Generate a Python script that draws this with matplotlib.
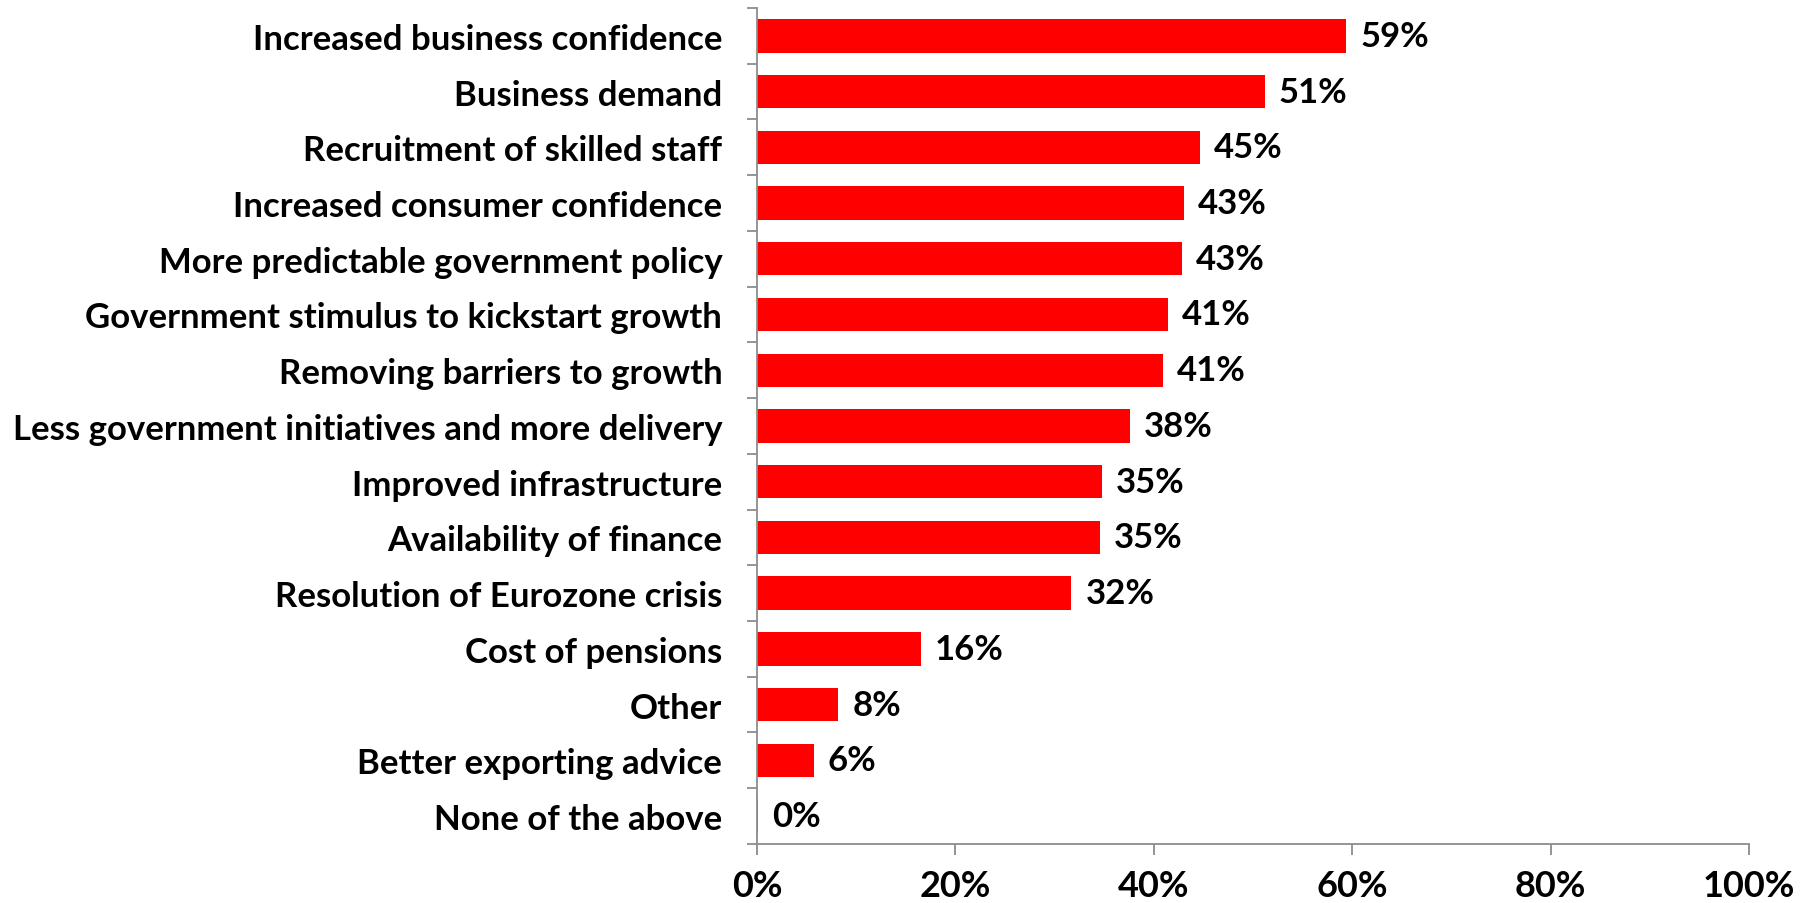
import matplotlib
matplotlib.use("Agg")
import matplotlib.pyplot as plt
from matplotlib.ticker import FixedLocator, PercentFormatter

# Survey responses: factors that would boost growth (share of respondents, %)
categories = [
    "Increased business confidence",
    "Business demand",
    "Recruitment of skilled staff",
    "Increased consumer confidence",
    "More predictable government policy",
    "Government stimulus to kickstart growth",
    "Removing barriers to growth",
    "Less government initiatives and more delivery",
    "Improved infrastructure",
    "Availability of finance",
    "Resolution of Eurozone crisis",
    "Cost of pensions",
    "Other",
    "Better exporting advice",
    "None of the above",
]
shares = [59.4, 51.2, 44.7, 43.0, 42.8, 41.4, 40.9, 37.6, 34.8, 34.6, 31.7, 16.5, 8.2, 5.7, 0.1]
x_ticks = [0, 20, 40, 60, 80, 100]

FONT = ["Lato", "DejaVu Sans"]
BAR_RED = "#FF0000"
AXIS_GREY = "#8C8C8C"

fig = plt.figure(figsize=(18.08, 9.04), dpi=100)
ax = fig.add_axes([0.4187, 0.0653, 0.5487, 0.9248])

pos = list(range(len(categories)))
ax.barh(pos, shares, height=0.6, color=BAR_RED, edgecolor="none")

ax.set_xlim(0, 100)
ax.set_ylim(len(categories) - 0.5, -0.5)

# value labels at bar ends
for p, v in zip(pos, shares):
    ax.annotate(f"{round(v):d}%", xy=(v, p), xytext=(10, 0), textcoords="offset points",
                ha="left", va="center", fontsize=25, fontweight="bold",
                family=FONT, color="black")

# category labels at bar centres, tick marks at category boundaries
ax.set_yticks(pos)
ax.set_yticklabels(categories, fontsize=25, fontweight="bold", family=FONT)
ax.tick_params(axis="y", which="major", length=0, pad=25)
ax.yaxis.set_minor_locator(FixedLocator([i - 0.5 for i in range(len(categories) + 1)]))
ax.tick_params(axis="y", which="minor", length=7, width=1.3, color=AXIS_GREY, direction="out")

ax.set_xticks(x_ticks)
ax.xaxis.set_major_formatter(PercentFormatter(decimals=0))
ax.tick_params(axis="x", which="major", length=8, width=1.3, color=AXIS_GREY,
               direction="out", pad=10)
for lab in ax.get_xticklabels():
    lab.set_fontsize(26)
    lab.set_fontweight("bold")
    lab.set_family(FONT)

for side in ("top", "right"):
    ax.spines[side].set_visible(False)
for side in ("left", "bottom"):
    ax.spines[side].set_color(AXIS_GREY)
    ax.spines[side].set_linewidth(1.3)

fig.savefig("out.png", dpi=100, facecolor="white")
